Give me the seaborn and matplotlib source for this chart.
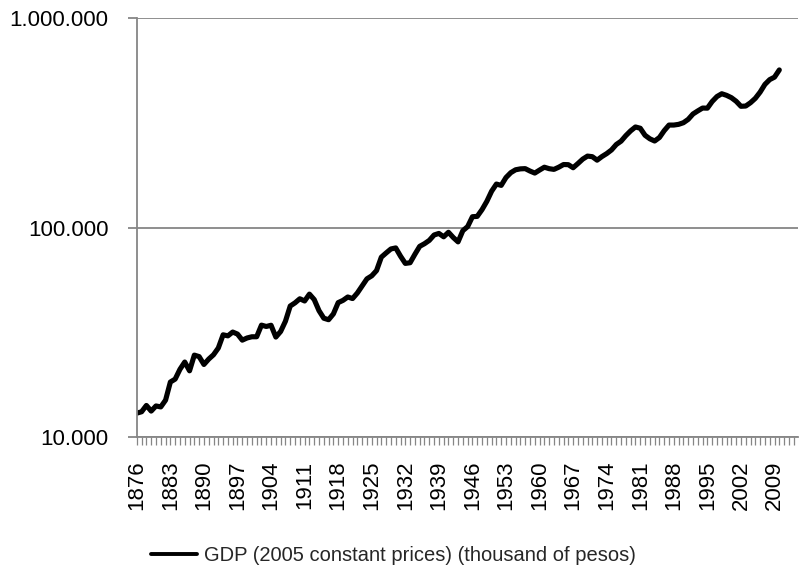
import matplotlib
matplotlib.use("Agg")
import matplotlib.pyplot as plt
import matplotlib.ticker as mticker
from matplotlib.lines import Line2D
import seaborn as sns
import pandas as pd

years = list(range(1876, 2011))
gdp = [
    13000, 13200, 14150, 13300, 14070, 13920, 15000, 18300, 18900, 21050,
    22800, 20700, 24600, 24200, 22200, 23550, 24700, 26600, 30750, 30400,
    31700, 31000, 29000, 29700, 30100, 30100, 34200, 33700, 34150, 30000,
    31900, 35700, 42200, 43700, 45700, 44600, 48100, 45300, 40100, 36900,
    36300, 38700, 43800, 44900, 46600, 45800, 48700, 52600, 56900, 58800,
    62300, 72200, 75600, 79000, 79900, 73000, 67400, 67900, 74500, 81300,
    83700, 86800, 92100, 93700, 90300, 94900, 89600, 85400, 96600, 101000,
    112600, 113000, 121700, 133300, 149000, 161200, 158900, 173200, 182700, 188600,
    190500, 191000, 186000, 181900, 188000, 194000, 190900, 189400, 194000, 199800,
    199500, 192900, 202000, 212000, 219200, 217800, 209600, 218000, 225300, 234500,
    249000, 258300, 274600, 289400, 301900, 297700, 275500, 265100, 258700, 268900,
    290000, 308300, 308300, 310700, 316300, 328200, 348200, 360200, 371700, 371200,
    399400, 421800, 435000, 427400, 416600, 400400, 378900, 380000, 394200, 413600,
    442800, 482000, 508000, 522000, 565000,
]
series_label = "GDP (2005 constant prices) (thousand of pesos)"
y_ticks = [10000, 100000, 1000000]
x_label_years = list(range(1876, 2010, 7))

df = pd.DataFrame({"year": years, "gdp": gdp})

sns.set_style("white")
plt.rcParams["font.family"] = ["Liberation Sans", "DejaVu Sans"]

GRAY = "#868686"
fig = plt.figure(figsize=(8.0, 5.73), dpi=100)
ax = fig.add_axes([0.171, 0.2373, 0.8265, 0.7313])

sns.lineplot(data=df, x="year", y="gdp", ax=ax, color="black", linewidth=3.7,
             solid_joinstyle="round", solid_capstyle="round", legend=False)

ax.set_yscale("log")
ax.set_ylim(10000, 1000000)
ax.set_xlim(1876, 2013.9)
ax.set_xlabel("")
ax.set_ylabel("")

ax.yaxis.set_major_locator(mticker.FixedLocator(y_ticks))
ax.yaxis.set_minor_locator(mticker.NullLocator())
ax.yaxis.set_major_formatter(mticker.FuncFormatter(lambda v, p: f"{int(round(v)):,}".replace(",", ".")))

ax.xaxis.set_major_locator(mticker.FixedLocator(x_label_years))
ax.xaxis.set_minor_locator(mticker.MultipleLocator(1))
ax.set_xticks(x_label_years)
ax.set_xticklabels([str(y) for y in x_label_years], rotation=90)

ax.grid(False)
ax.yaxis.grid(True, which="major", color=GRAY, linewidth=1.3)
ax.set_axisbelow(True)

for s in ["top", "right"]:
    ax.spines[s].set_visible(False)
for s in ["left", "bottom"]:
    ax.spines[s].set_color(GRAY)
    ax.spines[s].set_linewidth(1.3)

ax.tick_params(axis="x", which="both", direction="out", length=5.5, width=0.9,
               color=GRAY, bottom=True, labelsize=16, pad=11.5, labelcolor="black")
ax.tick_params(axis="y", which="major", direction="out", length=6.5, width=1.3,
               color=GRAY, left=True, labelsize=16, pad=14, labelcolor="black")

handle = Line2D([0], [0], color="black", linewidth=2.8)
fig.legend([handle], [series_label], loc="center", bbox_to_anchor=(0.492, 0.031),
           frameon=False, fontsize=14.5, handlelength=2.3, handletextpad=0.35,
           borderaxespad=0, borderpad=0)

fig.savefig("out.png", dpi=100)
